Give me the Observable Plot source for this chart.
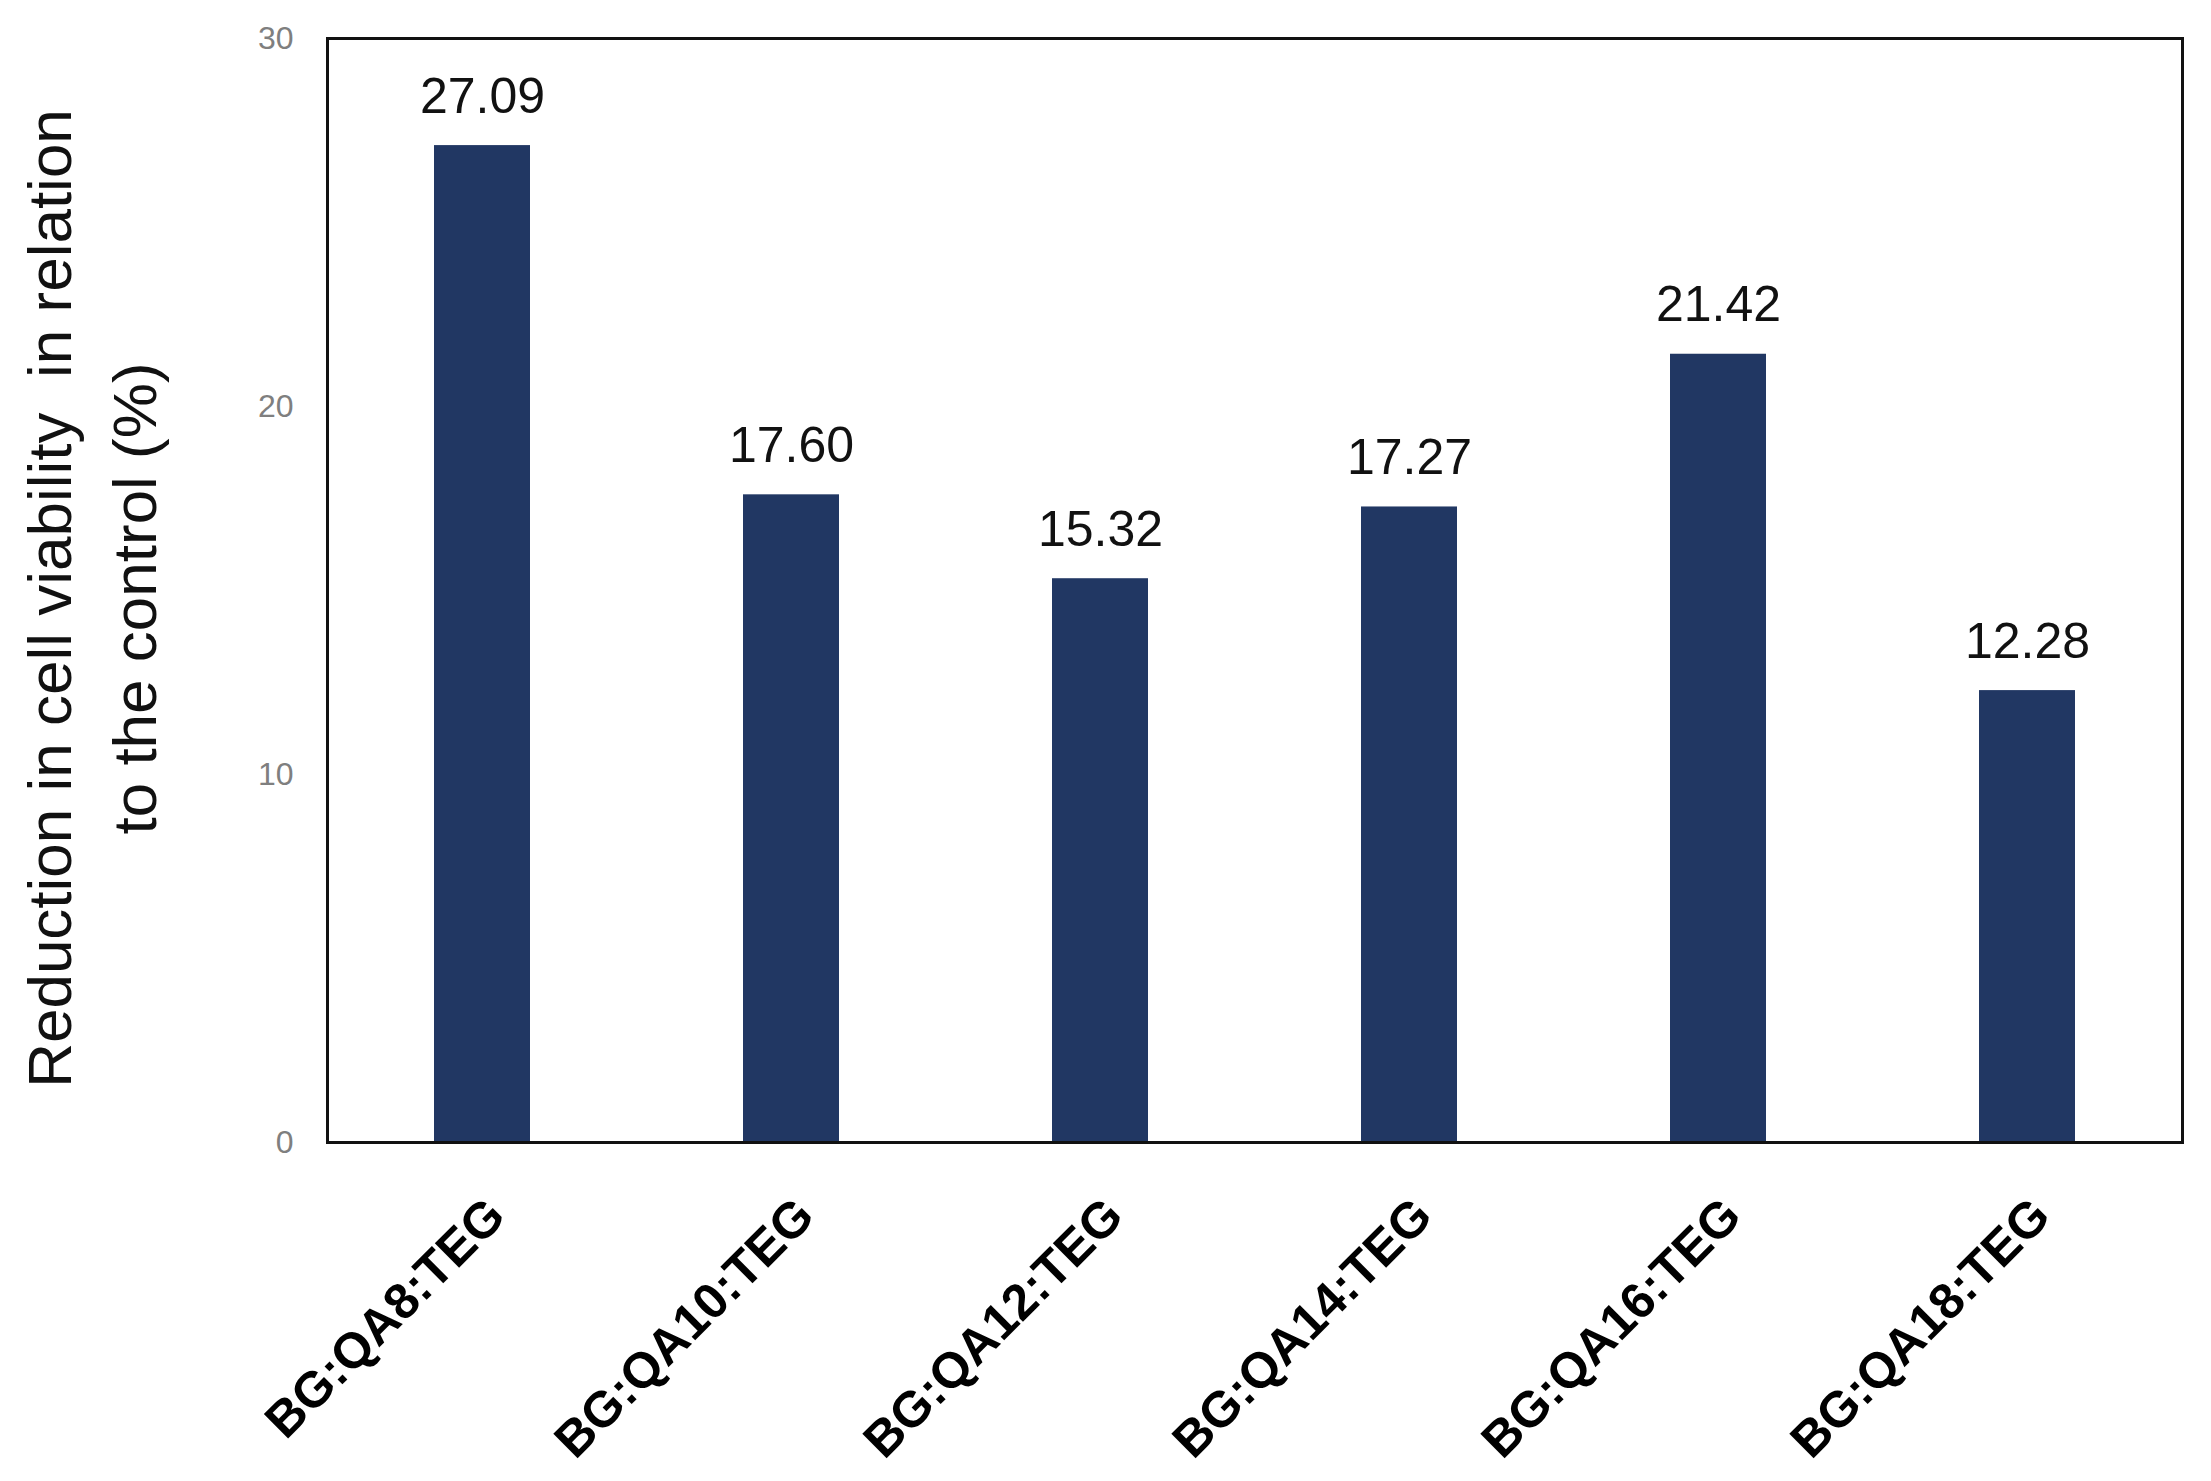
<!DOCTYPE html>
<html>
<head>
<meta charset="utf-8">
<script src="https://cdn.jsdelivr.net/npm/d3@7"></script>
<script src="https://cdn.jsdelivr.net/npm/@observablehq/plot@0.6"></script>
<style>
  html, body { margin: 0; padding: 0; background: #fff; }
  #chart svg { display: block; }
  g[aria-label="x-axis tick label"] text { font-weight: bold; }
</style>
</head>
<body>
<div id="chart"></div>
<script>
const categories = ["BG:QA8:TEG", "BG:QA10:TEG", "BG:QA12:TEG", "BG:QA14:TEG", "BG:QA16:TEG", "BG:QA18:TEG"];
const values = [27.09, 17.60, 15.32, 17.27, 21.42, 12.28];
const valueLabels = ["27.09", "17.60", "15.32", "17.27", "21.42", "12.28"];
const yTicks = [0, 10, 20, 30];
const yTitle = "Reduction in cell viability  in relation\nto the control (%)";

const data = categories.map((c, i) => ({cat: c, value: values[i], label: valueLabels[i]}));

const chart = Plot.plot({
  width: 2211,
  height: 1481,
  marginLeft: 327,
  marginRight: 29,
  marginTop: 38,
  marginBottom: 339,
  style: {background: "#fff", fontFamily: "'Liberation Sans', Arial, sans-serif"},
  x: {domain: categories, paddingInner: 0.69, paddingOuter: 0.345, label: null},
  y: {domain: [0, 30], label: null},
  marks: [
    Plot.barY(data, {x: "cat", y: "value", fill: "#213763"}),
    Plot.text(data, {x: "cat", y: "value", text: "label", dy: -33, lineAnchor: "bottom", fontSize: 50, fill: "#111"}),
    Plot.frame({stroke: "#111", strokeWidth: 3}),
    Plot.axisY({ticks: yTicks, tickSize: 0, tickPadding: 34, color: "#7f7f7f", fontSize: 32, tickFormat: d => String(d), label: null}),
    Plot.axisX({tickSize: 0, tickRotate: -45, tickPadding: 65, dx: 14, fontSize: 50, fontWeight: "bold", color: "#000", label: null}),
    Plot.text([yTitle], {frameAnchor: "left", rotate: -90, dx: -241, dy: 8, textAnchor: "middle", lineAnchor: "middle", lineHeight: 1.36, fontSize: 62, fill: "#111"})
  ]
});
document.getElementById("chart").appendChild(chart);
</script>
</body>
</html>
